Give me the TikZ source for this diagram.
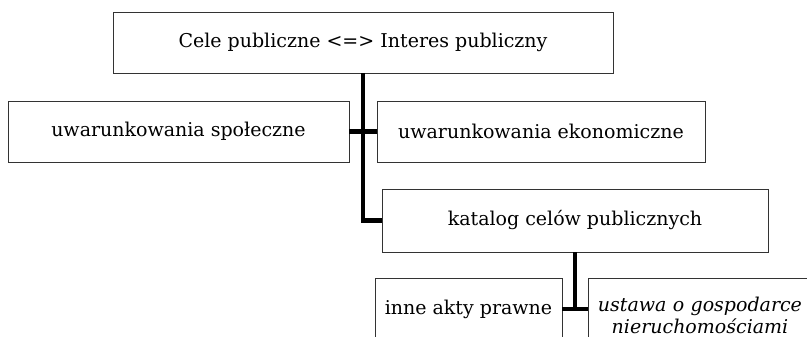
\documentclass[tikz,border=0pt]{standalone}
\usepackage{fontspec}
\setmainfont{DejaVu Serif}
\usepackage{tikz}
\usetikzlibrary{positioning}
\tikzstyle{cBox} = [rectangle, minimum height=61pt, text centered, draw=black!80, line width=0.9pt, fill=white, font=\fontsize{19}{23}\selectfont, inner sep=0pt]
\tikzstyle{cLink} = [line width=4.5pt, line join=miter, black]

\begin{document}
\begin{tikzpicture}[x=1pt, y=1pt]
    \useasboundingbox (0,0) rectangle (807,-337);
    \node (cele) [cBox, minimum width=500pt] at (363,-42.5) {Cele publiczne <=> Interes publiczny};
    \node (spoleczne) [cBox, minimum width=341pt] at (178.5,-131.5) {uwarunkowania społeczne};
    \node (ekonomiczne) [cBox, minimum width=328pt] at (541,-131.5) {uwarunkowania ekonomiczne};
    \node (katalog) [cBox, minimum width=386pt, minimum height=63pt] at (575,-220.5) {katalog celów publicznych};
    \node (inne) [cBox, minimum width=187pt, minimum height=62pt] at (468.5,-309) {inne akty prawne};
    \node (ustawa) [cBox, minimum width=224pt, minimum height=74pt, text width=224pt, font=\fontsize{19}{22}\selectfont\itshape] at (700,-315) {ustawa o gospodarce\\nieruchomościami};

    \draw [cLink] (cele.south) |- (katalog.west);
    \draw [cLink] (spoleczne.east) -- (ekonomiczne.west);
    \draw [cLink] (katalog.south) -- (katalog.south |- inne.east);
    \draw [cLink] (inne.east) -- (inne.east -| ustawa.west);
\end{tikzpicture}
\end{document}
